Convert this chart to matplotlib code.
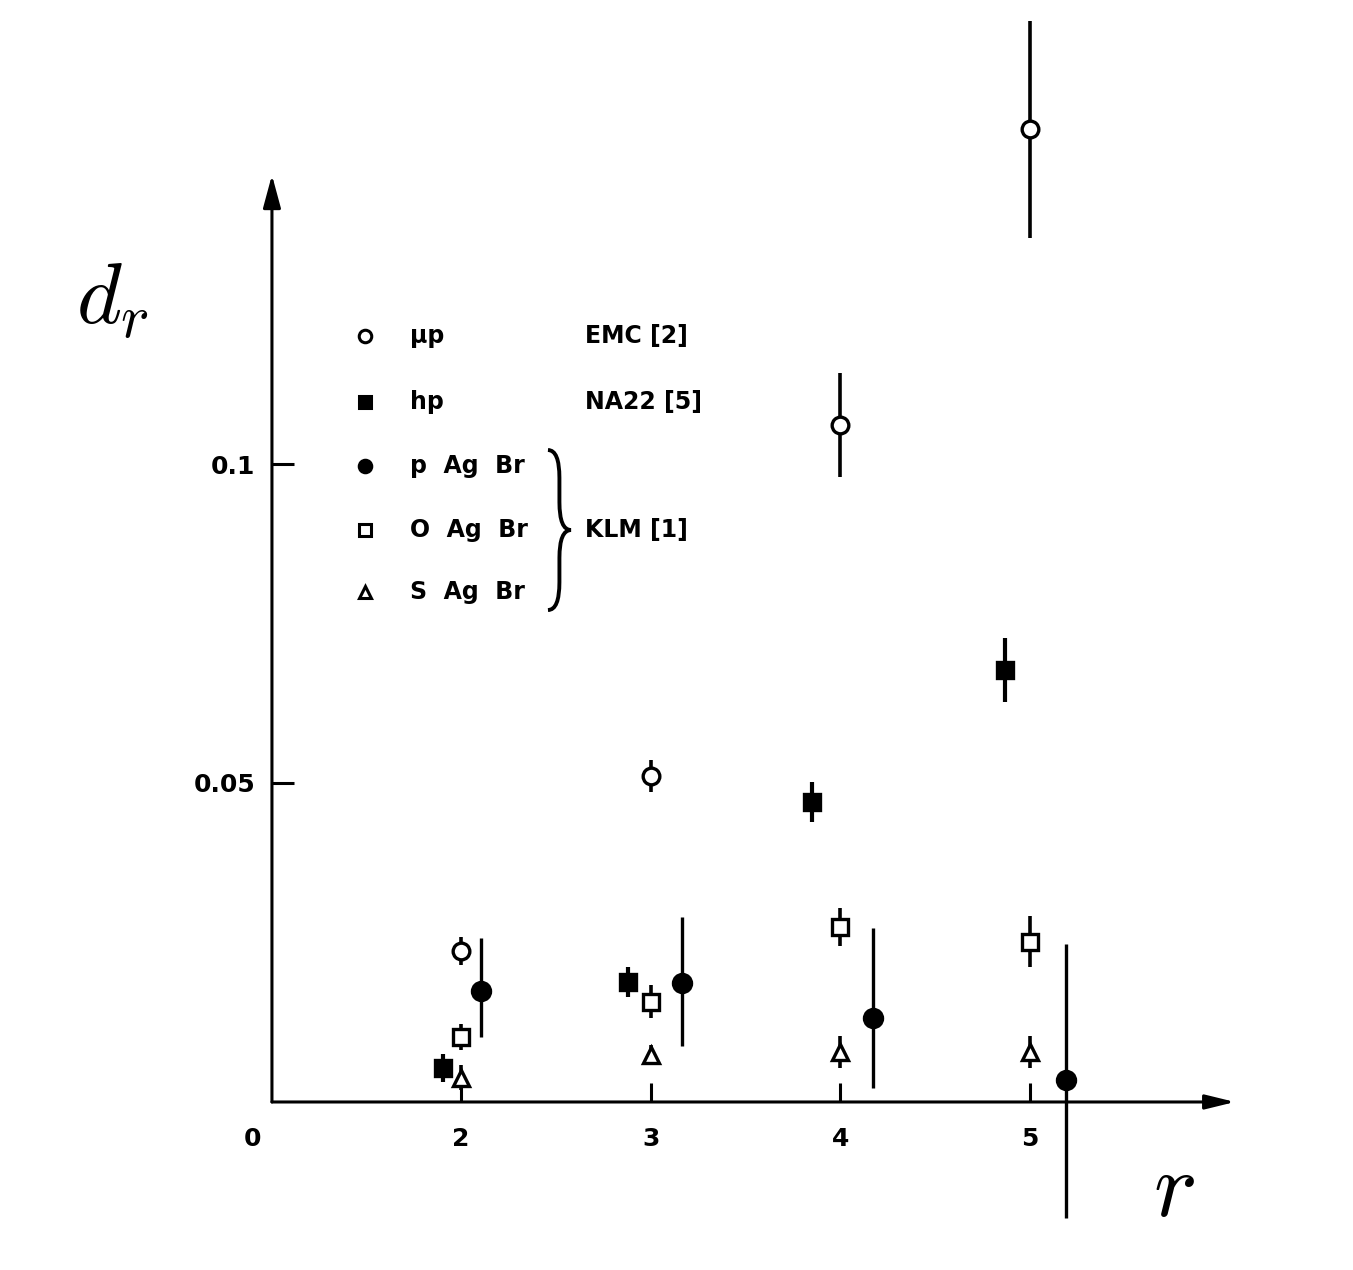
import numpy as np
import matplotlib
matplotlib.use("Agg")
import matplotlib.pyplot as plt
from matplotlib.path import Path
from matplotlib.patches import PathPatch

plt.rcParams['font.family'] = ['DejaVu Sans']
plt.rcParams['mathtext.fontset'] = 'cm'

# EMC mu p (open circles)
emc_r = [2.0, 3.0, 4.0, 5.0]
emc_d = [0.0237, 0.0511, 0.1061, 0.1525]
emc_err = [0.0022, 0.0025, 0.0082, 0.0170]

# NA22 h p (filled squares)
hp_r = [1.905, 2.88, 3.85, 4.87]
hp_d = [0.0053, 0.0188, 0.0470, 0.0677]
hp_err = [0.0022, 0.0024, 0.0031, 0.0050]

# KLM p AgBr (filled circles)
pag_r = [2.105, 3.165, 4.17, 5.19]
pag_d = [0.0174, 0.0187, 0.0132, 0.0034]
pag_lo = [0.0072, 0.0100, 0.0110, 0.0216]
pag_hi = [0.0083, 0.0103, 0.0141, 0.0213]

# KLM O AgBr (open squares)
oag_r = [2.0, 3.0, 4.0, 5.0]
oag_d = [0.0102, 0.0157, 0.0274, 0.0251]
oag_err = [0.0020, 0.0026, 0.0030, 0.0040]

# KLM S AgBr (open triangles)
sag_r = [2.0, 3.0, 4.0, 5.0]
sag_d = [0.0038, 0.0074, 0.0078, 0.0078]
sag_err = [0.0020, 0.0015, 0.0025, 0.0025]

xticks = [2, 3, 4, 5]
yticks = [0.05, 0.1]
ytick_labels = ['0.05', '0.1']

fig = plt.figure(figsize=(13.53, 12.70), dpi=100)
ax = fig.add_axes([0.2010, 0.1323, 0.7118, 0.7299])
ax.set_xlim(1.0037, 6.080)
ax.set_ylim(0, 0.1453)
for s in ax.spines.values():
    s.set_visible(False)

ax.set_xticks(xticks)
ax.set_xticklabels([str(t) for t in xticks])
ax.set_yticks(yticks)
ax.set_yticklabels(ytick_labels)
ax.tick_params(axis='x', direction='in', length=14, width=2.2, pad=18, labelsize=18)
ax.tick_params(axis='y', direction='in', length=16, width=2.2, pad=12, labelsize=18)
for lab in ax.get_xticklabels() + ax.get_yticklabels():
    lab.set_fontweight('bold')
ax.annotate('0', xy=(0, 0), xycoords='axes fraction', xytext=(-14, -18),
            textcoords='offset points', ha='center', va='top', fontsize=18, fontweight='bold')

# axes with arrow heads
ax.annotate('', xy=(1, 0), xytext=(0, 0), xycoords='axes fraction',
            arrowprops=dict(arrowstyle='-|>,head_length=0.9,head_width=0.22', lw=2.2,
                            color='black', shrinkA=0, shrinkB=0, mutation_scale=20))
ax.annotate('', xy=(0, 1), xytext=(0, 0), xycoords='axes fraction',
            arrowprops=dict(arrowstyle='-|>,head_length=1.0,head_width=0.27', lw=2.2,
                            color='black', shrinkA=0, shrinkB=0, mutation_scale=20))

def draw(x, y, err, marker, filled, ms, elw):
    eb = ax.errorbar(x, y, yerr=err, fmt=marker, ms=ms, mec='black', mew=2.4,
                     mfc='black' if filled else 'white', ecolor='black',
                     elinewidth=elw, capsize=0, zorder=3)
    eb[0].set_clip_on(False)
    for c in eb[2]:
        c.set_clip_on(False)

draw(emc_r, emc_d, emc_err, 'o', False, 12, 2.6)
draw(hp_r, hp_d, hp_err, 's', True, 11, 3.0)
draw(pag_r, pag_d, [pag_lo, pag_hi], 'o', True, 13, 2.4)
draw(oag_r, oag_d, oag_err, 's', False, 11, 2.6)
draw(sag_r, sag_d, sag_err, '^', False, 11, 2.6)

# legend drawn by hand
rows = [0.826, 0.755, 0.686, 0.617, 0.550]
leg = [('o', False, 'μp'), ('s', True, 'hp'), ('o', True, 'p  Ag  Br'),
       ('s', False, 'O  Ag  Br'), ('^', False, 'S  Ag  Br')]
for yy, (m, f, lab) in zip(rows, leg):
    ax.plot([0.0966], [yy], marker=m, ms=9, mec='black', mew=2.2,
            mfc='black' if f else 'white', transform=ax.transAxes, clip_on=False)
    ax.text(0.143, yy, lab, transform=ax.transAxes, va='center', ha='left',
            fontsize=17, fontweight='bold')
ax.text(0.325, rows[0], 'EMC [2]', transform=ax.transAxes, va='center', fontsize=17, fontweight='bold')
ax.text(0.325, rows[1], 'NA22 [5]', transform=ax.transAxes, va='center', fontsize=17, fontweight='bold')
ax.text(0.325, rows[3], 'KLM [1]', transform=ax.transAxes, va='center', fontsize=17, fontweight='bold')

# curly brace
x0, xm, x1 = 0.2866, 0.2985, 0.3105
yt, ym, yb = 0.7033, 0.6170, 0.5307
h = 0.03
verts = [(x0, yt), (xm, yt), (xm, yt - h), (xm, ym + h), (xm, ym), (x1, ym),
         (xm, ym), (xm, ym - h), (xm, yb + h), (xm, yb), (x0, yb)]
codes = [Path.MOVETO, Path.CURVE3, Path.CURVE3, Path.LINETO, Path.CURVE3, Path.CURVE3,
         Path.CURVE3, Path.CURVE3, Path.LINETO, Path.CURVE3, Path.CURVE3]
ax.add_patch(PathPatch(Path(verts, codes), fill=False, lw=2.8, transform=ax.transAxes, clip_on=False))

fig.text(0.0828, 0.764, r'$d_r$', fontsize=62, ha='center', va='center')
fig.text(0.868, 0.063, r'$r$', fontsize=66, ha='center', va='center')

fig.savefig('out.png', dpi=100)
